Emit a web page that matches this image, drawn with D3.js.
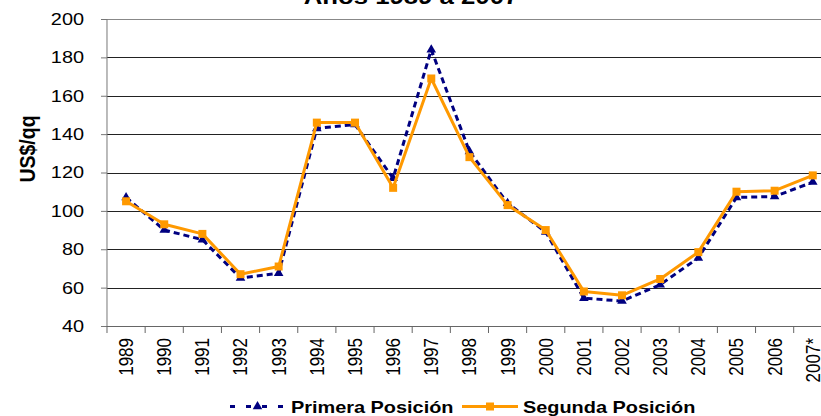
<!DOCTYPE html>
<html lang="es">
<head>
    <meta charset="UTF-8">
    <title>Precios US$/qq, años 1989 a 2007</title>
    <script src="https://d3js.org/d3.v7.min.js"></script>
    <style>
        body { margin: 0; background: #fff; }
        svg { display: block; font-family: "Liberation Sans", Arial, sans-serif; }
    </style>
</head>
<body>
<div id="chart"></div>
<script>
    // datos
    const years = ["1989", "1990", "1991", "1992", "1993", "1994", "1995", "1996", "1997", "1998",
        "1999", "2000", "2001", "2002", "2003", "2004", "2005", "2006", "2007*"];
    const primera = [107, 90, 85, 65, 67.5, 143, 145, 117, 184, 131,
        104, 89, 54.5, 53, 61.5, 75.5, 107, 107.5, 115];
    const segunda = [105, 93, 88, 67, 71, 146, 146, 112, 169, 128,
        103, 90, 58, 56, 64.5, 78.5, 110, 110.5, 118.5];
    const yTicks = [40, 60, 80, 100, 120, 140, 160, 180, 200];

    const W = 821, H = 416;
    const SX = 1.17; // la imagen original está estirada a lo ancho
    const vw = W / SX;

    const plotLeft = 107 / SX;
    const plotTop = 19, plotBottom = 326;
    const band = 38.15 / SX;

    const svg = d3.select("#chart").append("svg")
        .attr("width", W)
        .attr("height", H)
        .attr("viewBox", `0 0 ${vw} ${H}`)
        .attr("preserveAspectRatio", "none");

    const x = d3.scaleBand().domain(years).range([plotLeft, plotLeft + band * years.length]).padding(0);
    const y = d3.scaleLinear().domain([40, 200]).range([plotBottom, plotTop]);
    const cx = d => x(d) + x.bandwidth() / 2;

    // líneas de cuadrícula
    svg.append("g").selectAll("line")
        .data(yTicks.slice(1))
        .enter().append("line")
        .attr("x1", plotLeft).attr("x2", vw)
        .attr("y1", d => Math.round(y(d)) + 0.5).attr("y2", d => Math.round(y(d)) + 0.5)
        .attr("stroke", d => d === 200 ? "#888" : "#222")
        .attr("stroke-width", 1)
        .attr("vector-effect", "non-scaling-stroke");

    // eje Y
    svg.append("g")
        .attr("transform", `translate(${plotLeft},0)`)
        .call(d3.axisLeft(y).tickValues(yTicks).tickSize(6 / SX).tickPadding(14.5))
        .call(g => g.selectAll("line, path").attr("stroke", "#777").attr("vector-effect", "non-scaling-stroke"))
        .call(g => g.selectAll("text").attr("font-size", 17).attr("fill", "#000"))
        .call(g => g.select(".domain").remove());

    svg.append("line")
        .attr("x1", plotLeft).attr("x2", plotLeft)
        .attr("y1", y(200)).attr("y2", y(40))
        .attr("stroke", "#777").attr("vector-effect", "non-scaling-stroke");

    // eje X
    const xAxis = svg.append("g").attr("transform", `translate(0,${plotBottom})`);
    xAxis.append("line")
        .attr("x1", plotLeft).attr("x2", vw)
        .attr("y1", 0.5).attr("y2", 0.5)
        .attr("stroke", "#666").attr("vector-effect", "non-scaling-stroke");
    xAxis.selectAll(".tk")
        .data(years)
        .enter().append("line")
        .attr("class", "tk")
        .attr("x1", d => x(d)).attr("x2", d => x(d))
        .attr("y1", 0).attr("y2", 7)
        .attr("stroke", "#666").attr("vector-effect", "non-scaling-stroke");
    xAxis.selectAll("text")
        .data(years)
        .enter().append("text")
        .attr("transform", d => `translate(${cx(d)},0) rotate(-90)`)
        .attr("x", -12)
        .attr("dy", "0.35em")
        .attr("text-anchor", "end")
        .attr("font-size", 17)
        .text(d => d);

    // título (cortado arriba en el original)
    svg.append("text")
        .attr("x", 411 / SX).attr("y", 4)
        .attr("text-anchor", "middle")
        .attr("font-size", 22).attr("font-weight", "bold")
        .text("Años 1989 a 2007");

    // título del eje Y
    svg.append("text")
        .attr("transform", `translate(${27 / SX},149) rotate(-90)`)
        .attr("dy", "0.35em")
        .attr("text-anchor", "middle")
        .attr("font-size", 19.5).attr("font-weight", "bold")
        .text("US$/qq");

    // series
    const line = d3.line().x((d, i) => cx(years[i])).y(d => y(d));
    const tri = d3.symbol(d3.symbolTriangle).size(40);
    const sq = d3.symbol(d3.symbolSquare).size(64);

    svg.append("path")
        .datum(primera)
        .attr("d", line)
        .attr("fill", "none")
        .attr("stroke", "#000080")
        .attr("stroke-width", 3)
        .attr("stroke-dasharray", "6,4")
        .attr("vector-effect", "non-scaling-stroke");
    svg.append("g").selectAll("path")
        .data(primera)
        .enter().append("path")
        .attr("d", tri)
        .attr("transform", (d, i) => `translate(${cx(years[i])},${y(d)}) scale(${1 / SX},1)`)
        .attr("fill", "#000080");

    svg.append("path")
        .datum(segunda)
        .attr("d", line)
        .attr("fill", "none")
        .attr("stroke", "#FF9900")
        .attr("stroke-width", 3)
        .attr("stroke-linejoin", "round")
        .attr("vector-effect", "non-scaling-stroke");
    svg.append("g").selectAll("path")
        .data(segunda)
        .enter().append("path")
        .attr("d", sq)
        .attr("transform", (d, i) => `translate(${cx(years[i])},${y(d)}) scale(${1 / SX},1)`)
        .attr("fill", "#FF9900");

    // leyenda
    const legendY = 406.5;
    const legend = [
        { name: "Primera Posición", color: "#000080", dash: "5,11", sym: tri, x0: 230, x1: 285, tx: 291 },
        { name: "Segunda Posición", color: "#FF9900", dash: null, sym: sq, x0: 462, x1: 518, tx: 523 }
    ];
    const lg = svg.append("g").selectAll("g").data(legend).enter().append("g");
    lg.append("line")
        .attr("x1", d => d.x0 / SX).attr("x2", d => d.x1 / SX)
        .attr("y1", legendY).attr("y2", legendY)
        .attr("stroke", d => d.color)
        .attr("stroke-width", 3)
        .attr("stroke-dasharray", d => d.dash)
        .attr("vector-effect", "non-scaling-stroke");
    lg.append("path")
        .attr("d", d => d.sym())
        .attr("transform", d => `translate(${(d.x0 + d.x1) / 2 / SX},${legendY}) scale(${1 / SX},1)`)
        .attr("fill", d => d.color);
    lg.append("text")
        .attr("x", d => d.tx / SX).attr("y", legendY)
        .attr("dy", "0.36em")
        .attr("font-size", 17).attr("font-weight", "bold")
        .text(d => d.name);
</script>
</body>
</html>
